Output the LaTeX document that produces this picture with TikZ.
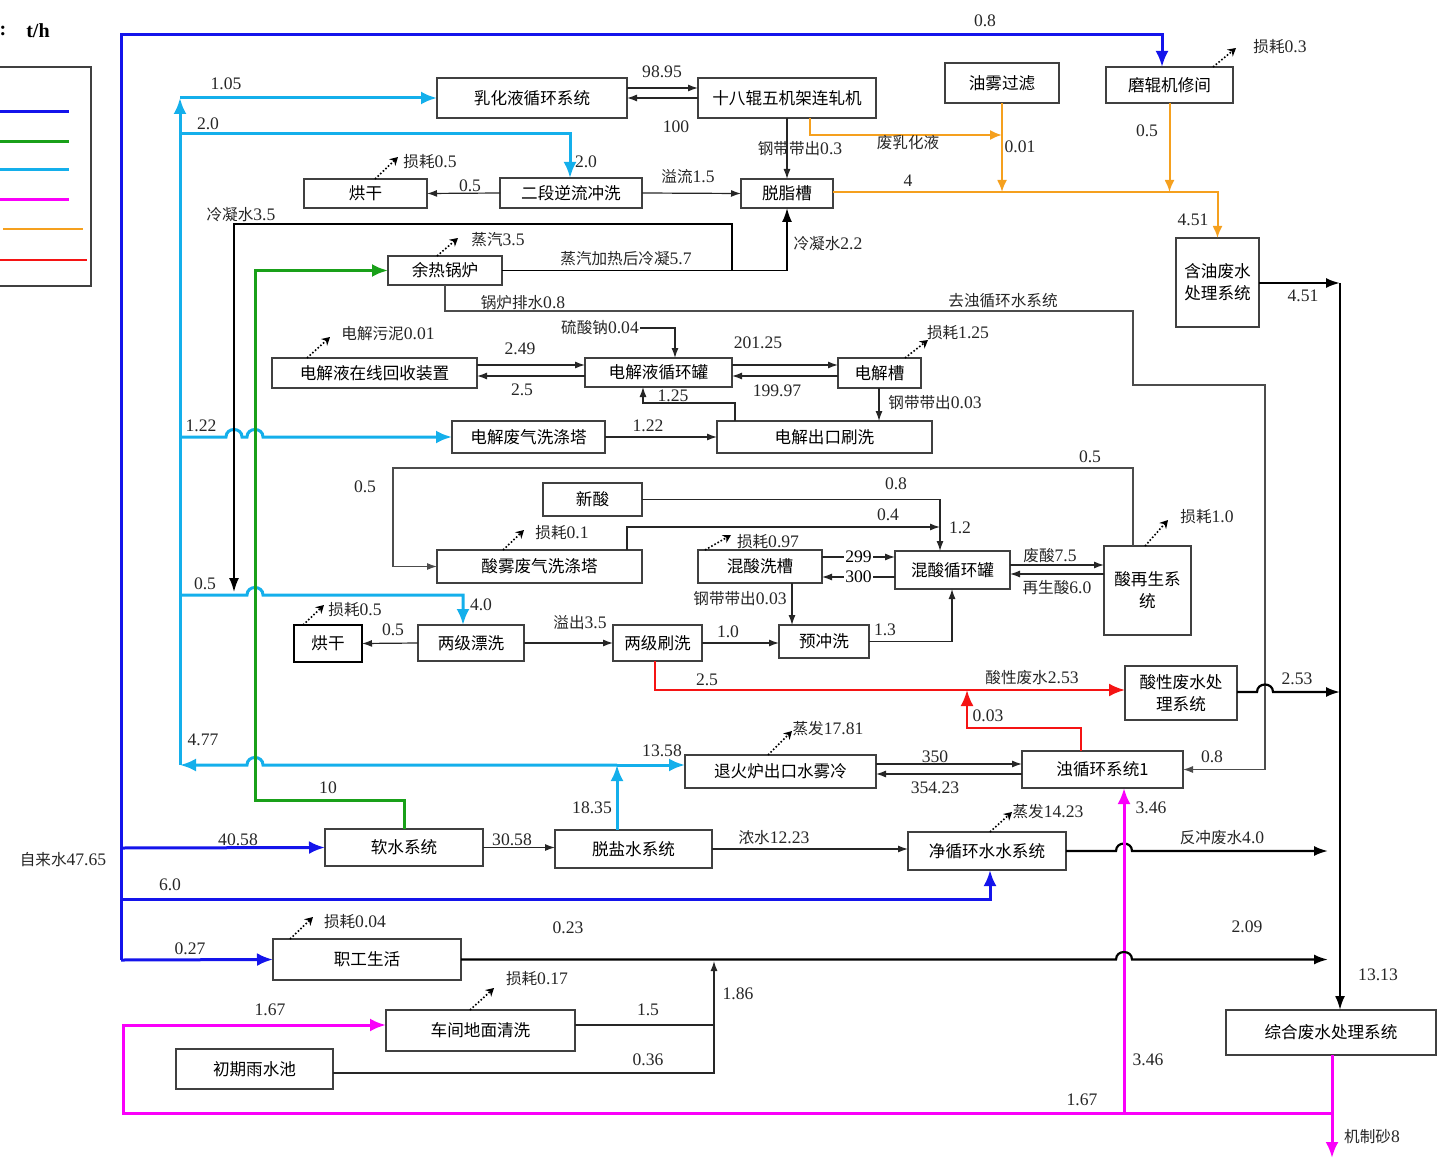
\documentclass[tikz,border=0pt]{standalone}
\usepackage{fontspec}
\setmainfont{Liberation Serif}
\newfontfamily\cjk{Noto Sans CJK SC}
\usetikzlibrary{arrows.meta}
\definecolor{cB}{RGB}{20,20,235}
\definecolor{cG}{RGB}{25,160,25}
\definecolor{cC}{RGB}{20,175,235}
\definecolor{cM}{RGB}{250,0,250}
\definecolor{cO}{RGB}{245,160,30}
\definecolor{cR}{RGB}{245,20,20}
\newcommand\zh[1]{{\cjk\fontsize{7.8}{9.4}\selectfont #1}}
\newcommand\bx[6]{\node[box, minimum width={(#4-#2)*0.5pt}, minimum height={(#5-#3)*0.5pt}] (#1) at ({(#2+#4)/2},{(#3+#5)/2}) {#6};}
\tikzset{
  box/.style={draw=black!75, line width=0.6pt, inner sep=0pt, outer sep=0pt, align=center, font=\cjk\fontsize{8.3}{11}\selectfont},
  lb/.style={inner sep=0.5pt, font=\fontsize{8.8}{10}\selectfont, text=black!85},
  ar/.style={line width=0.6pt, draw=black!85, -{Latex[length=5pt,width=3.5pt]}},
  ln/.style={line width=0.6pt, draw=black!85},
  gar/.style={line width=0.6pt, draw=black!70, -{Latex[length=5pt,width=3.5pt]}},
  tar/.style={line width=1.1pt, draw=black, -{Latex[length=7pt,width=5pt]}},
  bigtip/.style={-{Latex[length=8pt,width=6.5pt]}},
  bl/.style={line width=1.5pt, draw=cB},
  gl/.style={line width=1.5pt, draw=cG},
  cl/.style={line width=1.5pt, draw=cC},
  ml/.style={line width=1.5pt, draw=cM},
  ol/.style={line width=1pt, draw=cO, -{Latex[length=6pt,width=5pt]}},
  rl/.style={line width=1.2pt, draw=cR},
  loss/.style={line width=0.8pt, densely dotted, -{Stealth[length=4pt,width=4.5pt]}},
}
\begin{document}
\begin{tikzpicture}[x=0.5pt, y=-0.5pt]
\useasboundingbox (0,0) rectangle (1438,1160);
% legend
\node[inner sep=0pt, font=\bfseries\fontsize{10}{12}\selectfont] (unitc) at (3,31) {:};
\node[inner sep=0pt, font=\bfseries\fontsize{10}{12}\selectfont] (unit) at (38,31) {t/h};
\draw[line width=0.7pt, black!75] (-10,67) rectangle (91,286);
\coordinate (lg0) at (-10,0);
\draw[bl] (-10,112) -- (69,112);
\draw[gl] (-10,142) -- (69,142);
\draw[cl] (-10,170) -- (69,170);
\draw[ml] (-10,200) -- (69,200);
\draw[line width=1.3pt, cO] (3,229) -- (83,229);
\draw[line width=1.3pt, cR] (-10,260) -- (87,260);

% boxes
\bx{ruhua}{437}{78}{627}{118}{乳化液循环系统}
\bx{zhaji}{698}{78}{876}{118}{十八辊五机架连轧机}
\bx{youwu}{945}{63}{1059}{103}{油雾过滤}
\bx{mogun}{1106}{67}{1233}{103}{磨辊机修间}
\bx{hong1}{304}{179}{427}{208}{烘干}
\bx{erduan}{500}{178}{642}{208}{二段逆流冲洗}
\bx{tuozhi}{741}{179}{833}{208}{脱脂槽}
\bx{hanyou}{1176}{238}{1259}{327}{含油废水\\处理系统}
\bx{guolu}{388}{256}{502}{285}{余热锅炉}
\bx{huishou}{272}{358}{477}{388}{电解液在线回收装置}
\bx{xunhuan}{585}{358}{732}{387}{电解液循环罐}
\bx{dianjie}{838}{358}{921}{388}{电解槽}
\bx{feiqi}{452}{421}{605}{453}{电解废气洗涤塔}
\bx{shuaxi}{717}{421}{932}{453}{电解出口刷洗}
\bx{xinsuan}{543}{483}{642}{516}{新酸}
\bx{suanwu}{437}{550}{642}{583}{酸雾废气洗涤塔}
\bx{hunxi}{698}{550}{822}{583}{混酸洗槽}
\bx{hunguan}{895}{551}{1010}{589}{混酸循环罐}
\bx{zaisheng}{1104}{546}{1191}{635}{酸再生系\\统}
\node[box, line width=1.3pt, draw=black, minimum width=34pt, minimum height=18.5pt] (hong2) at (328,643.5) {烘干};
\bx{piaoxi}{418}{625}{524}{661}{两级漂洗}
\bx{shuax2}{613}{625}{702}{661}{两级刷洗}
\bx{chongxi}{779}{625}{869}{658}{预冲洗}
\bx{suanxing}{1125}{666}{1237}{720}{酸性废水处\\理系统}
\bx{tuihuo}{685}{755}{876}{788}{退火炉出口水雾冷}
\bx{zhuo}{1022}{751}{1183}{788}{浊循环系统1}
\bx{ruanshui}{325}{829}{483}{866}{软水系统}
\bx{tuoyan}{555}{830}{712}{868}{脱盐水系统}
\bx{jing}{908}{832}{1066}{870}{净循环水水系统}
\bx{zhigong}{273}{939}{461}{980}{职工生活}
\bx{dimian}{386}{1010}{575}{1051}{车间地面清洗}
\bx{yushui}{176}{1049}{333}{1089}{初期雨水池}
\bx{zonghe}{1226}{1010}{1436}{1055}{综合废水处理系统}

% ---- blue (tap water)
\coordinate (bTop) at (121,35);
\coordinate (bBot) at (121,960);
\draw[bl, bigtip] (bBot) -- (bTop) -- (1162,35) -- (1162,0 |- mogun.north);
\draw[bl, bigtip] (121,848) -- (ruanshui.west);
\draw[bl, bigtip] (121,899) -- (990,899) -- (990,0 |- jing.south);
\draw[bl, bigtip] (121,960) -- (zhigong.west);

% ---- cyan
\coordinate (cJ) at (617,765);
\draw[cl, bigtip] (180,765) -- (180,98);
\draw[cl, bigtip] (180,98) -- (ruhua.west);
\draw[cl, bigtip] (180,134) -- (570,134) -- (570,0 |- erduan.north);
\draw[cl, bigtip] (180,437) -- (226,437) .. controls (226,427) and (242,427) .. (242,437) -- (247,437) .. controls (247,427) and (263,427) .. (263,437) -- (feiqi.west);
\draw[cl, bigtip] (180,595) -- (247,595) .. controls (247,585) and (263,585) .. (263,595) -- (463,595) -- (463,0 |- piaoxi.north);
\draw[cl, bigtip] (cJ) -- (263,765) .. controls (263,755) and (247,755) .. (247,765) -- (180,765);
\draw[cl, bigtip] (cJ) -- (tuihuo.west |- 0,765);
\draw[cl, bigtip] (617,0 |- tuoyan.north) -- (cJ);

% ---- green
\draw[gl, bigtip] (ruanshui.north) -- (404,800) -- (255,800) -- (255,270.5) -- (guolu.west);

% ---- black steam / condensate
\draw[line width=0.9pt, black, -{Latex[length=7pt,width=5pt]}] (guolu.east) -| (tuozhi.south);
\draw[line width=0.9pt, black, -{Latex[length=7pt,width=5pt]}] (732,270.5) -- (732,224) -- (234,224) -- (234,592);

% ---- orange
\draw[ol] (810,0 |- zhaji.south) |- (1002,135);
\draw[ol] (youwu.south) -- (1002,192);
\draw[ol] (mogun.south) -- (1169.5,192);
\draw[ol] (tuozhi.east |- 0,192) -| (hanyou.north);

% ---- black thin connectors (top)
\draw[ar] (ruhua.east |- 0,88) -- (zhaji.west |- 0,88);
\draw[ar] (zhaji.west |- 0,98) -- (ruhua.east |- 0,98);
\draw[ar] (zhaji.south) -- (tuozhi.north);
\draw[ar] (erduan.west) -- (hong1.east);
\draw[ar] (erduan.east) -- (tuozhi.west);
\draw[tar] (hanyou.east |- 0,283) -- (1340,283);
\draw[tar] (1340,283) -- (1340,0 |- zonghe.north);

% ---- electrolysis
\draw[ar] (huishou.east |- 0,365) -- (xunhuan.west |- 0,365);
\draw[ar] (xunhuan.west |- 0,376) -- (huishou.east |- 0,376);
\draw[ar] (xunhuan.east |- 0,365) -- (dianjie.west |- 0,365);
\draw[ar] (dianjie.west |- 0,376) -- (xunhuan.east |- 0,376);
\node[lb] (lNa) at (600,328) {\zh{硫酸钠}0.04};
\draw[ar] (lNa.east) -- (675,328) -- (675,0 |- xunhuan.north);
\draw[ar] (735,0 |- shuaxi.north) -- (735,403) -- (643,403) -- (643,0 |- xunhuan.south);
\draw[ar] (879,0 |- dianjie.south) -- (879,0 |- shuaxi.north);
\draw[ar] (feiqi.east) -- (shuaxi.west);

% ---- grey return lines
\draw[gar] (445,0 |- guolu.south) -- (445,311) -- (1133,311) -- (1133,385) -- (1265,385) -- (1265,769.5) -- (zhuo.east);
\draw[gar] (1133,0 |- zaisheng.north) -- (1133,468) -- (393,468) -- (393,566.5) -- (suanwu.west);

% ---- acid
\draw[ar] (xinsuan.east) -- (940,499.5) -- (940,0 |- hunguan.north);
\draw[ar] (627,0 |- suanwu.north) -- (627,527) -- (940,527);
\draw[ar] (hunxi.east |- 0,557) -- node[fill=white, inner sep=0.5pt, font=\fontsize{8.8}{10}\selectfont] (l299) {299} (hunguan.west |- 0,557);
\draw[ar] (hunguan.west |- 0,577) -- node[fill=white, inner sep=0.5pt, font=\fontsize{8.8}{10}\selectfont] (l300) {300} (hunxi.east |- 0,577);
\draw[ar] (hunguan.east |- 0,565) -- (zaisheng.west |- 0,565);
\draw[ar] (zaisheng.west |- 0,574) -- (hunguan.east |- 0,574);
\draw[ar] (792,0 |- hunxi.south) -- (792,0 |- chongxi.north);
\draw[ar] (piaoxi.west) -- (hong2.east);
\draw[ar] (piaoxi.east) -- (shuax2.west);
\draw[ar] (shuax2.east) -- (shuax2.east -| chongxi.west);
\draw[ar] (chongxi.east) -| (952,0 |- hunguan.south);

% ---- red
\draw[rl, bigtip] (655,0 |- shuax2.south) |- (suanxing.west |- 0,690);
\draw[rl, bigtip] (1081,0 |- zhuo.north) -- (1081,728) -- (967,728) -- (967,690);
\draw[tar] (suanxing.east |- 0,692) -- (1257,692) .. controls (1257,682) and (1273,682) .. (1273,692) -- (1340,692);

% ---- annealing / circulation
\draw[ar] (tuihuo.east |- 0,764) -- (zhuo.west |- 0,764);
\draw[ar] (zhuo.west |- 0,774) -- (tuihuo.east |- 0,774);
\draw[ar] (ruanshui.east) -- (ruanshui.east -| tuoyan.west);
\draw[ar] (tuoyan.east) -- (tuoyan.east -| jing.west);
\draw[tar] (jing.east) -- (1116,851) .. controls (1116,841) and (1132,841) .. (1132,851) -- (1328,851);

% ---- magenta
\draw[ml, bigtip] (1124,1113) -- (1124,0 |- zhuo.south);
\draw[ml, bigtip] (1332,0 |- zonghe.south) -- (1332,1158);
\draw[ml, bigtip] (1332,1113) -- (123,1113) -- (123,1025) -- (dimian.west |- 0,1025);

% ---- living / floor
\draw[tar] (zhigong.east) -- (1116,959.5) .. controls (1116,949.5) and (1132,949.5) .. (1132,959.5) -- (1328,959.5);
\draw[ln] (dimian.east |- 0,1025) -- (714,1025);
\draw[ar] (yushui.east |- 0,1073) -- (714,1073) -- (714,961);

% ---- loss arrows
\draw[loss] (375,0 |- hong1.north) -- (398,157);
\node[lb] (ls1) at (430,162) {\zh{损耗}0.5};
\draw[loss] (437,0 |- guolu.north) -- (458,238);
\node[lb] (ls2) at (498,240) {\zh{蒸汽}3.5};
\draw[loss] (307,0 |- huishou.north) -- (330,337);
\node[lb] (ls3) at (388,334) {\zh{电解污泥}0.01};
\draw[loss] (905,0 |- dianjie.north) -- (928,340);
\node[lb] (ls4) at (958,333) {\zh{损耗}1.25};
\draw[loss] (1213,0 |- mogun.north) -- (1236,48);
\node[lb] (ls5) at (1280,47) {\zh{损耗}0.3};
\draw[loss] (503,0 |- suanwu.north) -- (524,530);
\node[lb] (ls6) at (562,533) {\zh{损耗}0.1};
\draw[loss] (705,0 |- hunxi.north) -- (731,535);
\node[lb] (ls7) at (768,542) {\zh{损耗}0.97};
\draw[loss] (1145,0 |- zaisheng.north) -- (1168,520);
\node[lb] (ls8) at (1207,517) {\zh{损耗}1.0};
\draw[loss] (303,0 |- hong2.north) -- (324,605);
\node[lb] (ls9) at (355,610) {\zh{损耗}0.5};
\draw[loss] (768,0 |- tuihuo.north) -- (792,731);
\node[lb] (ls10) at (828,729) {\zh{蒸发}17.81};
\draw[loss] (990,0 |- jing.north) -- (1012,812);
\node[lb] (ls11) at (1048,812) {\zh{蒸发}14.23};
\draw[loss] (290,0 |- zhigong.north) -- (313,917);
\node[lb] (ls12) at (355,922) {\zh{损耗}0.04};
\draw[loss] (470,0 |- dimian.north) -- (494,988);
\node[lb] (ls13) at (537,979) {\zh{损耗}0.17};

% ---- labels
\node[lb] (l1) at (226,84) {1.05};
\node[lb] (l2) at (208,124) {2.0};
\node[lb] (l3) at (586,162) {2.0};
\node[lb] (l4) at (662,72) {98.95};
\node[lb] (l5) at (676,127) {100};
\node[lb] (l6) at (800,149) {\zh{钢带带出}0.3};
\node[lb] (l7) at (908,143) {\zh{废乳化液}};
\node[lb] (l8) at (1020,147) {0.01};
\node[lb] (l9) at (1147,131) {0.5};
\node[lb] (l10) at (985,21) {0.8};
\node[lb] (l11) at (908,181) {4};
\node[lb] (l12) at (1193,220) {4.51};
\node[lb] (l13) at (1303,296) {4.51};
\node[lb] (l14) at (470,186) {0.5};
\node[lb] (l15) at (688,177) {\zh{溢流}1.5};
\node[lb] (l16) at (241,215) {\zh{冷凝水}3.5};
\node[lb] (l17) at (828,244) {\zh{冷凝水}2.2};
\node[lb] (l18) at (626,259) {\zh{蒸汽加热后冷凝}5.7};
\node[lb] (l19) at (523,303) {\zh{锅炉排水}0.8};
\node[lb] (l20) at (1003,301) {\zh{去浊循环水系统}};
\node[lb] (l22) at (520,349) {2.49};
\node[lb] (l23) at (522,390) {2.5};
\node[lb] (l24) at (758,343) {201.25};
\node[lb] (l25) at (777,391) {199.97};
\node[lb] (l26) at (673,396) {1.25};
\node[lb] (l27) at (935,403) {\zh{钢带带出}0.03};
\node[lb] (l28) at (648,426) {1.22};
\node[lb] (l29) at (201,426) {1.22};
\node[lb] (l30) at (365,487) {0.5};
\node[lb] (l31) at (1090,457) {0.5};
\node[lb] (l32) at (896,484) {0.8};
\node[lb] (l33) at (888,515) {0.4};
\node[lb] (l34) at (960,528) {1.2};
\node[lb] (l35) at (1050,556) {\zh{废酸}7.5};
\node[lb] (l36) at (1057,588) {\zh{再生酸}6.0};
\node[lb] (l37) at (205,584) {0.5};
\node[lb] (l38) at (481,605) {4.0};
\node[lb] (l39) at (393,630) {0.5};
\node[lb] (l40) at (580,623) {\zh{溢出}3.5};
\node[lb] (l41) at (740,599) {\zh{钢带带出}0.03};
\node[lb] (l42) at (728,632) {1.0};
\node[lb] (l43) at (885,630) {1.3};
\node[lb] (l44) at (707,680) {2.5};
\node[lb] (l45) at (1032,678) {\zh{酸性废水}2.53};
\node[lb] (l46) at (988,716) {0.03};
\node[lb] (l47) at (1297,679) {2.53};
\node[lb] (l48) at (1212,757) {0.8};
\node[lb] (l49) at (203,740) {4.77};
\node[lb] (l50) at (662,751) {13.58};
\node[lb] (l51) at (935,757) {350};
\node[lb] (l52) at (935,788) {354.23};
\node[lb] (l53) at (328,788) {10};
\node[lb] (l54) at (592,808) {18.35};
\node[lb] (l55) at (1151,808) {3.46};
\node[lb] (l56) at (238,840) {40.58};
\node[lb] (l57) at (512,840) {30.58};
\node[lb] (l58) at (774,838) {\zh{浓水}12.23};
\node[lb] (l59) at (1222,838) {\zh{反冲废水}4.0};
\node[lb] (l60) at (63,860) {\zh{自来水}47.65};
\node[lb] (l61) at (170,885) {6.0};
\node[lb] (l62) at (190,949) {0.27};
\node[lb] (l63) at (568,928) {0.23};
\node[lb] (l64) at (1247,927) {2.09};
\node[lb] (l65) at (1378,975) {13.13};
\node[lb] (l66) at (738,994) {1.86};
\node[lb] (l67) at (270,1010) {1.67};
\node[lb] (l68) at (648,1010) {1.5};
\node[lb] (l69) at (648,1060) {0.36};
\node[lb] (l70) at (1148,1060) {3.46};
\node[lb] (l71) at (1082,1100) {1.67};
\node[lb] (l72) at (1372,1137) {\zh{机制砂}8};
\end{tikzpicture}
\end{document}
